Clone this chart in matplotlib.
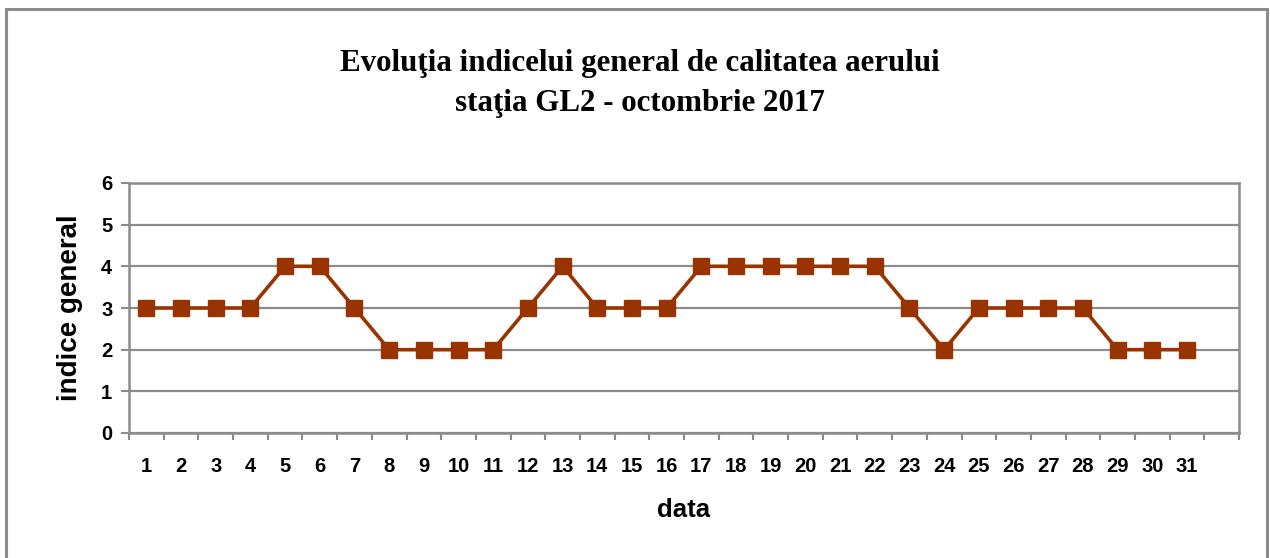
import numpy as np
import matplotlib
matplotlib.use("Agg")
import matplotlib.pyplot as plt
from matplotlib.patches import Rectangle

# --- date ---
zile = list(range(1, 32))
indice = [3, 3, 3, 3, 4, 4, 3, 2, 2, 2, 2, 3, 4, 3, 3, 3,
          4, 4, 4, 4, 4, 4, 3, 2, 3, 3, 3, 3, 2, 2, 2]
y_ticks = [0, 1, 2, 3, 4, 5, 6]

titlu_1 = "Evoluţia indicelui general de calitatea aerului"
titlu_2 = "staţia GL2 - octombrie 2017"

fig = plt.figure(figsize=(12.7, 5.58), dpi=100)
ax = fig.add_axes([129 / 1270, 1 - 433 / 558, (1239 - 129) / 1270, (433 - 183) / 558])

gri = "#8c8c8c"
culoare = "#993300"

# cadrul exterior
fig.patches.append(Rectangle((6 / 1270, -0.02), (1267 - 6) / 1270, 1.02 - 9 / 558,
                             transform=fig.transFigure, fill=False,
                             edgecolor=gri, linewidth=2.2))

ax.plot(zile, indice, color=culoare, linewidth=2.6, marker="s",
        markersize=11, markerfacecolor=culoare, markeredgecolor=culoare, zorder=3)

ax.set_xlim(0.5, 32.5)
ax.set_ylim(0, 6)
ax.set_yticks(y_ticks)
ax.yaxis.grid(True, color=gri, linewidth=1.6)
ax.set_axisbelow(True)

ax.set_xticks(zile)
ax.set_xticklabels([str(z) for z in zile])
ax.set_xticks(np.arange(0.5, 33, 1), minor=True)
ax.tick_params(axis="x", which="major", length=0, pad=17)
ax.tick_params(axis="x", which="minor", length=5, width=1.5, color=gri, direction="out")
ax.tick_params(axis="y", length=6, width=1.5, color=gri, pad=6)

for lbl in ax.get_xticklabels() + ax.get_yticklabels():
    lbl.set_fontfamily("Liberation Sans")
    lbl.set_fontweight("bold")
    lbl.set_fontsize(14.5)

for s in ax.spines.values():
    s.set_color(gri)
    s.set_linewidth(1.8)

ax.set_ylabel("indice general", fontfamily="Liberation Sans", fontweight="bold",
              fontsize=20, labelpad=13)
ax.set_xlabel("data", fontfamily="Liberation Sans", fontweight="bold",
              fontsize=18.5, labelpad=16)

fig.text(0.504, 1 - 71 / 558, titlu_1, ha="center", va="baseline",
         fontfamily="Liberation Serif", fontweight="bold", fontsize=22.3)
fig.text(0.504, 1 - 111 / 558, titlu_2, ha="center", va="baseline",
         fontfamily="Liberation Serif", fontweight="bold", fontsize=22.3)

fig.savefig("out.png", dpi=100)
